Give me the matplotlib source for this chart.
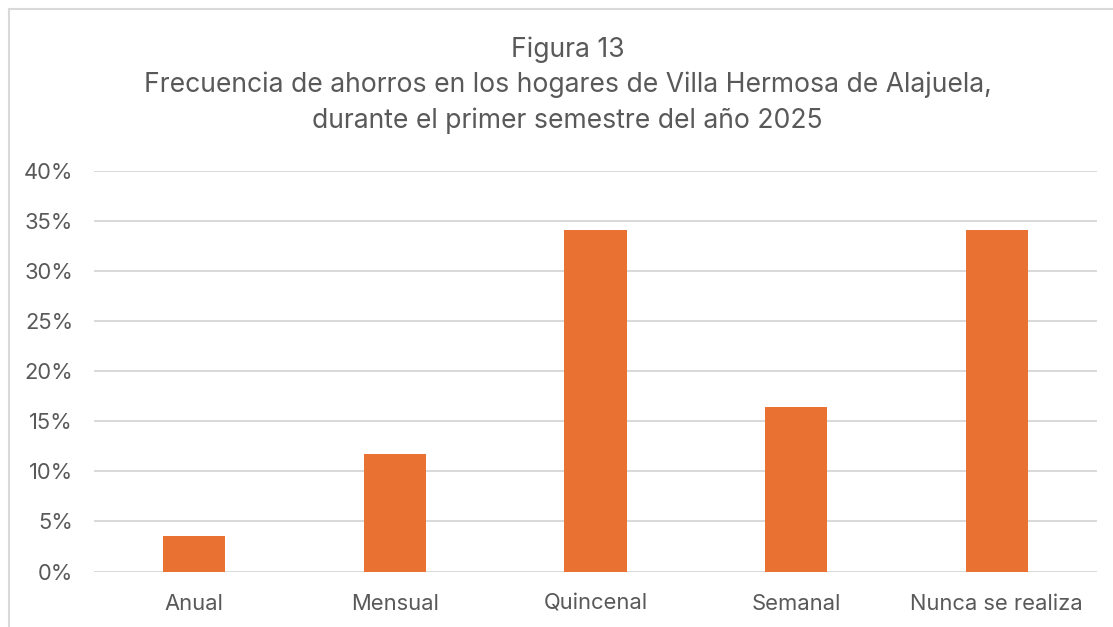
import matplotlib.pyplot as plt
from matplotlib.lines import Line2D
from matplotlib.ticker import PercentFormatter

plt.rcParams['font.family'] = ['Inter', 'DejaVu Sans']

# data
categorias = ['Anual', 'Mensual', 'Quincenal', 'Semanal', 'Nunca se realiza']
porcentajes = [0.0353, 0.1176, 0.3412, 0.1647, 0.3412]

titulo = ('Figura 13\n'
          'Frecuencia de ahorros en los hogares de Villa Hermosa de Alajuela,\n'
          'durante el primer semestre del año 2025')

gris = '#595959'
naranja = '#E97132'

fig = plt.figure(figsize=(11.13, 6.27), dpi=100)
ax = fig.add_axes([94/1113, 1 - 571.5/627, 1003/1113, 400.5/627])

ax.bar(range(len(categorias)), porcentajes, width=0.31, color=naranja, zorder=3)

ax.set_xlim(-0.5, len(categorias) - 0.5)
ax.set_ylim(0, 0.40)
ax.set_yticks([i * 0.05 for i in range(9)])
ax.yaxis.set_major_formatter(PercentFormatter(1.0, decimals=0))
ax.set_xticks(range(len(categorias)))
ax.set_xticklabels(categorias)

ax.grid(axis='y', color='#D9D9D9', linewidth=1.4, zorder=0)
ax.tick_params(axis='both', length=0, labelsize=15.8, labelcolor=gris)
ax.tick_params(axis='x', pad=16)
ax.tick_params(axis='y', pad=15)
for s in ax.spines.values():
    s.set_visible(False)

fig.text(0.510, 1 - 85/627, titulo, ha='center', va='center', fontsize=19.1,
         color=gris, linespacing=1.45)

# chart frame
fig.add_artist(Line2D([9/1113, 9/1113], [0, 1 - 9/627], color='#D9D9D9', linewidth=1.5))
fig.add_artist(Line2D([9/1113, 1], [1 - 9/627, 1 - 9/627], color='#D9D9D9', linewidth=1.5))

fig.savefig('out.png', dpi=100, facecolor='white')
